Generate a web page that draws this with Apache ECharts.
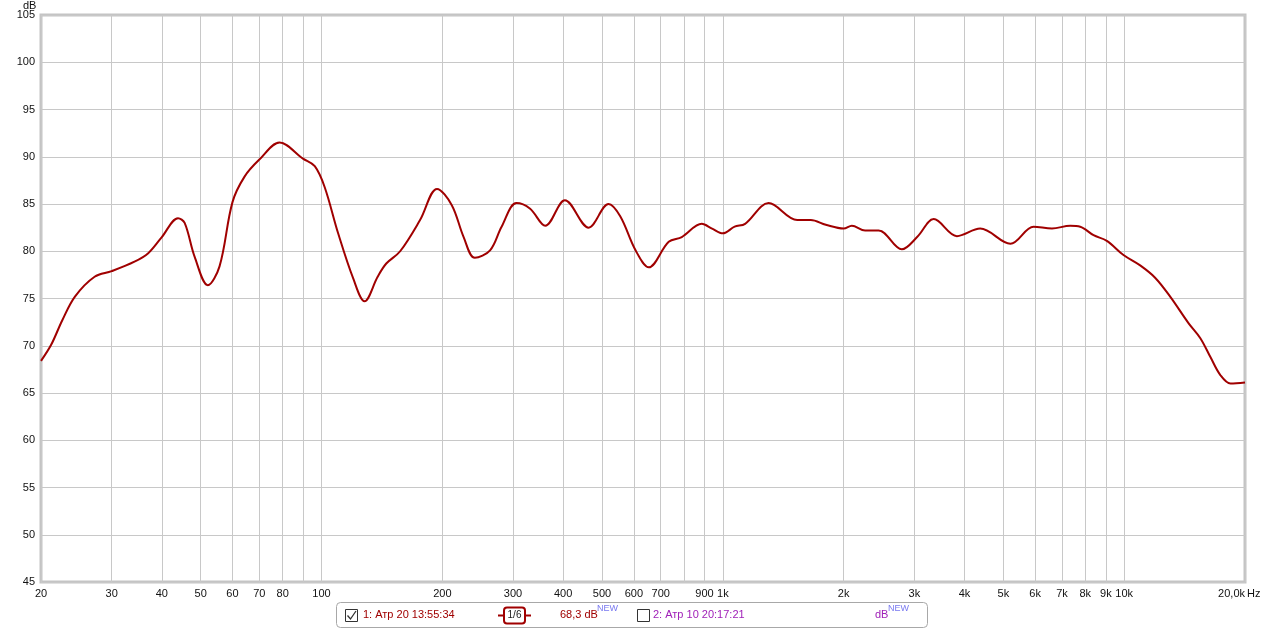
<!DOCTYPE html>
<html>
<head>
<meta charset="utf-8">
<script src="https://cdn.jsdelivr.net/npm/echarts@6/dist/echarts.min.js"></script>
<style>
html,body{margin:0;padding:0;background:#fff;}
#chart{width:1265px;height:630px;}
</style>
</head>
<body>
<div id="chart"></div>
<script>
// Frequency (Hz) and SPL (dB)
const freqHz = [20, 21.2, 22.6, 24.3, 27.2, 30, 34.2, 37, 40, 43.9, 45.6, 48.3, 52.1, 55.7, 60, 64.3, 70, 78.6, 89.9, 96.2, 101.8, 110, 120, 128, 138, 145, 157, 176, 194, 211, 226, 241, 263, 281, 306, 331, 361, 404, 463, 519, 555, 606, 654, 733, 790, 886, 940, 1000, 1070, 1136, 1300, 1532, 1656, 1805, 2000, 2096, 2262, 2444, 2792, 3048, 3354, 3830, 4378, 5206, 5946, 6608, 7336, 7770, 8388, 9052, 9960, 10960, 11940, 13020, 14460, 15480, 16400, 17360, 18400, 20000];
const splDb = [68.4, 70.1, 72.7, 75.2, 77.3, 77.9, 78.9, 79.8, 81.5, 83.5, 83.0, 79.4, 76.4, 78.4, 85.2, 87.9, 89.7, 91.5, 89.8, 89.0, 86.8, 81.9, 77.1, 74.7, 77.3, 78.7, 80.0, 83.3, 86.6, 84.9, 81.5, 79.3, 80.1, 82.6, 85.1, 84.5, 82.7, 85.4, 82.5, 85.0, 83.7, 80.1, 78.3, 81.0, 81.5, 82.9, 82.4, 81.9, 82.6, 82.9, 85.1, 83.3, 83.3, 82.8, 82.4, 82.7, 82.2, 82.2, 80.2, 81.5, 83.4, 81.6, 82.4, 80.8, 82.6, 82.4, 82.7, 82.6, 81.7, 81.1, 79.6, 78.5, 77.2, 75.2, 72.4, 70.8, 68.8, 66.9, 66.0, 66.1];
const gridFreqs = [20, 30, 40, 50, 60, 70, 80, 90, 100, 200, 300, 400, 500, 600, 700, 800, 900, 1000, 2000, 3000, 4000, 5000, 6000, 7000, 8000, 9000, 10000, 20000];
const labelFreqs = [20, 30, 40, 50, 60, 70, 80, 100, 200, 300, 400, 500, 600, 700, 900, 1000, 2000, 3000, 4000, 5000, 6000, 7000, 8000, 9000, 10000, 20000];
const yTicks = [45, 50, 55, 60, 65, 70, 75, 80, 85, 90, 95, 100, 105];
const legendName1 = '1: Атр 20 13:55:34';
const legendName2 = '2: Атр 10 20:17:21';
const legendValue1 = '68,3 dB';
const smoothing = '1/6';

const chart = echarts.init(document.getElementById('chart'), null, {renderer: 'canvas'});
const seriesData = freqHz.map((f, i) => [f, splDb[i]]);

function fmtFreq(v) {
  if (v >= 20000) return '20,0k';
  if (v >= 1000) return (v / 1000) + 'k';
  return String(v);
}

const darkRed = '#a00000';
const purple = '#a020b8';
const newBlue = '#7878f0';
const font = 'Liberation Sans, Arial, sans-serif';

chart.setOption({
  animation: false,
  backgroundColor: '#fff',
  grid: {left: 41, right: 20, top: 15, bottom: 48, show: true, outerBoundsMode: 'none', containLabel: false, borderColor: '#c4c4c4', borderWidth: 3, backgroundColor: '#fff'},
  xAxis: {
    type: 'log', logBase: 10, min: 20, max: 20000,
    axisLine: {show: false},
    axisTick: {show: false, customValues: gridFreqs},
    splitLine: {show: true, lineStyle: {color: '#c8c8c8', width: 1}},
    minorSplitLine: {show: false},
    axisLabel: {customValues: labelFreqs, formatter: fmtFreq, color: '#111', fontSize: 11, fontFamily: font, margin: 6, showMinLabel: true, showMaxLabel: true, hideOverlap: false, alignMaxLabel: 'right'}
  },
  yAxis: {
    type: 'value', min: 45, max: 105, interval: 5,
    axisLine: {show: false}, axisTick: {show: false},
    splitLine: {show: true, lineStyle: {color: '#c8c8c8', width: 1}},
    axisLabel: {color: '#111', fontSize: 11, fontFamily: font, margin: 6, showMinLabel: true, showMaxLabel: true}
  },
  series: [{
    type: 'line', data: seriesData, smooth: 0.35, symbol: 'none',
    lineStyle: {color: darkRed, width: 2}, z: 5
  }],
  graphic: [
    {type: 'text', left: 23, top: 0, style: {text: 'dB', fill: '#111', font: '11px ' + font}},
    {type: 'text', x: 1247, y: 588, style: {text: 'Hz', fill: '#111', font: '11px ' + font}},
    {type: 'rect', shape: {x: 336.5, y: 602.5, width: 591, height: 25, r: 4}, style: {fill: '#fff', stroke: '#a8a8a8', lineWidth: 1}},
    {type: 'rect', shape: {x: 345.5, y: 609.5, width: 12, height: 12}, style: {fill: '#fff', stroke: '#333', lineWidth: 1}},
    {type: 'polyline', shape: {points: [[347.5, 615.5], [350.5, 619], [356, 611]]}, style: {stroke: '#333', lineWidth: 1.3, fill: null}},
    {type: 'text', x: 363, y: 615, style: {text: legendName1, fill: darkRed, font: '11px ' + font, textVerticalAlign: 'middle'}},
    {type: 'line', shape: {x1: 498, y1: 615.5, x2: 504, y2: 615.5}, style: {stroke: darkRed, lineWidth: 2}},
    {type: 'line', shape: {x1: 525, y1: 615.5, x2: 531, y2: 615.5}, style: {stroke: darkRed, lineWidth: 2}},
    {type: 'rect', shape: {x: 504, y: 607.5, width: 21, height: 16, r: 3}, style: {fill: '#fff', stroke: darkRed, lineWidth: 2}},
    {type: 'text', x: 514.5, y: 615.5, style: {text: smoothing, fill: '#222', font: '10px ' + font, textAlign: 'center', textVerticalAlign: 'middle'}},
    {type: 'text', x: 560, y: 615, style: {text: legendValue1, fill: darkRed, font: '11px ' + font, textVerticalAlign: 'middle'}},
    {type: 'text', x: 597, y: 609, style: {text: 'NEW', fill: newBlue, font: '9px ' + font, textVerticalAlign: 'middle'}},
    {type: 'rect', shape: {x: 637.5, y: 609.5, width: 12, height: 12}, style: {fill: '#fff', stroke: '#333', lineWidth: 1}},
    {type: 'text', x: 653, y: 615, style: {text: legendName2, fill: purple, font: '11px ' + font, textVerticalAlign: 'middle'}},
    {type: 'text', x: 875, y: 615, style: {text: 'dB', fill: purple, font: '11px ' + font, textVerticalAlign: 'middle'}},
    {type: 'text', x: 888, y: 609, style: {text: 'NEW', fill: newBlue, font: '9px ' + font, textVerticalAlign: 'middle'}}
  ]
});
</script>
</body>
</html>
